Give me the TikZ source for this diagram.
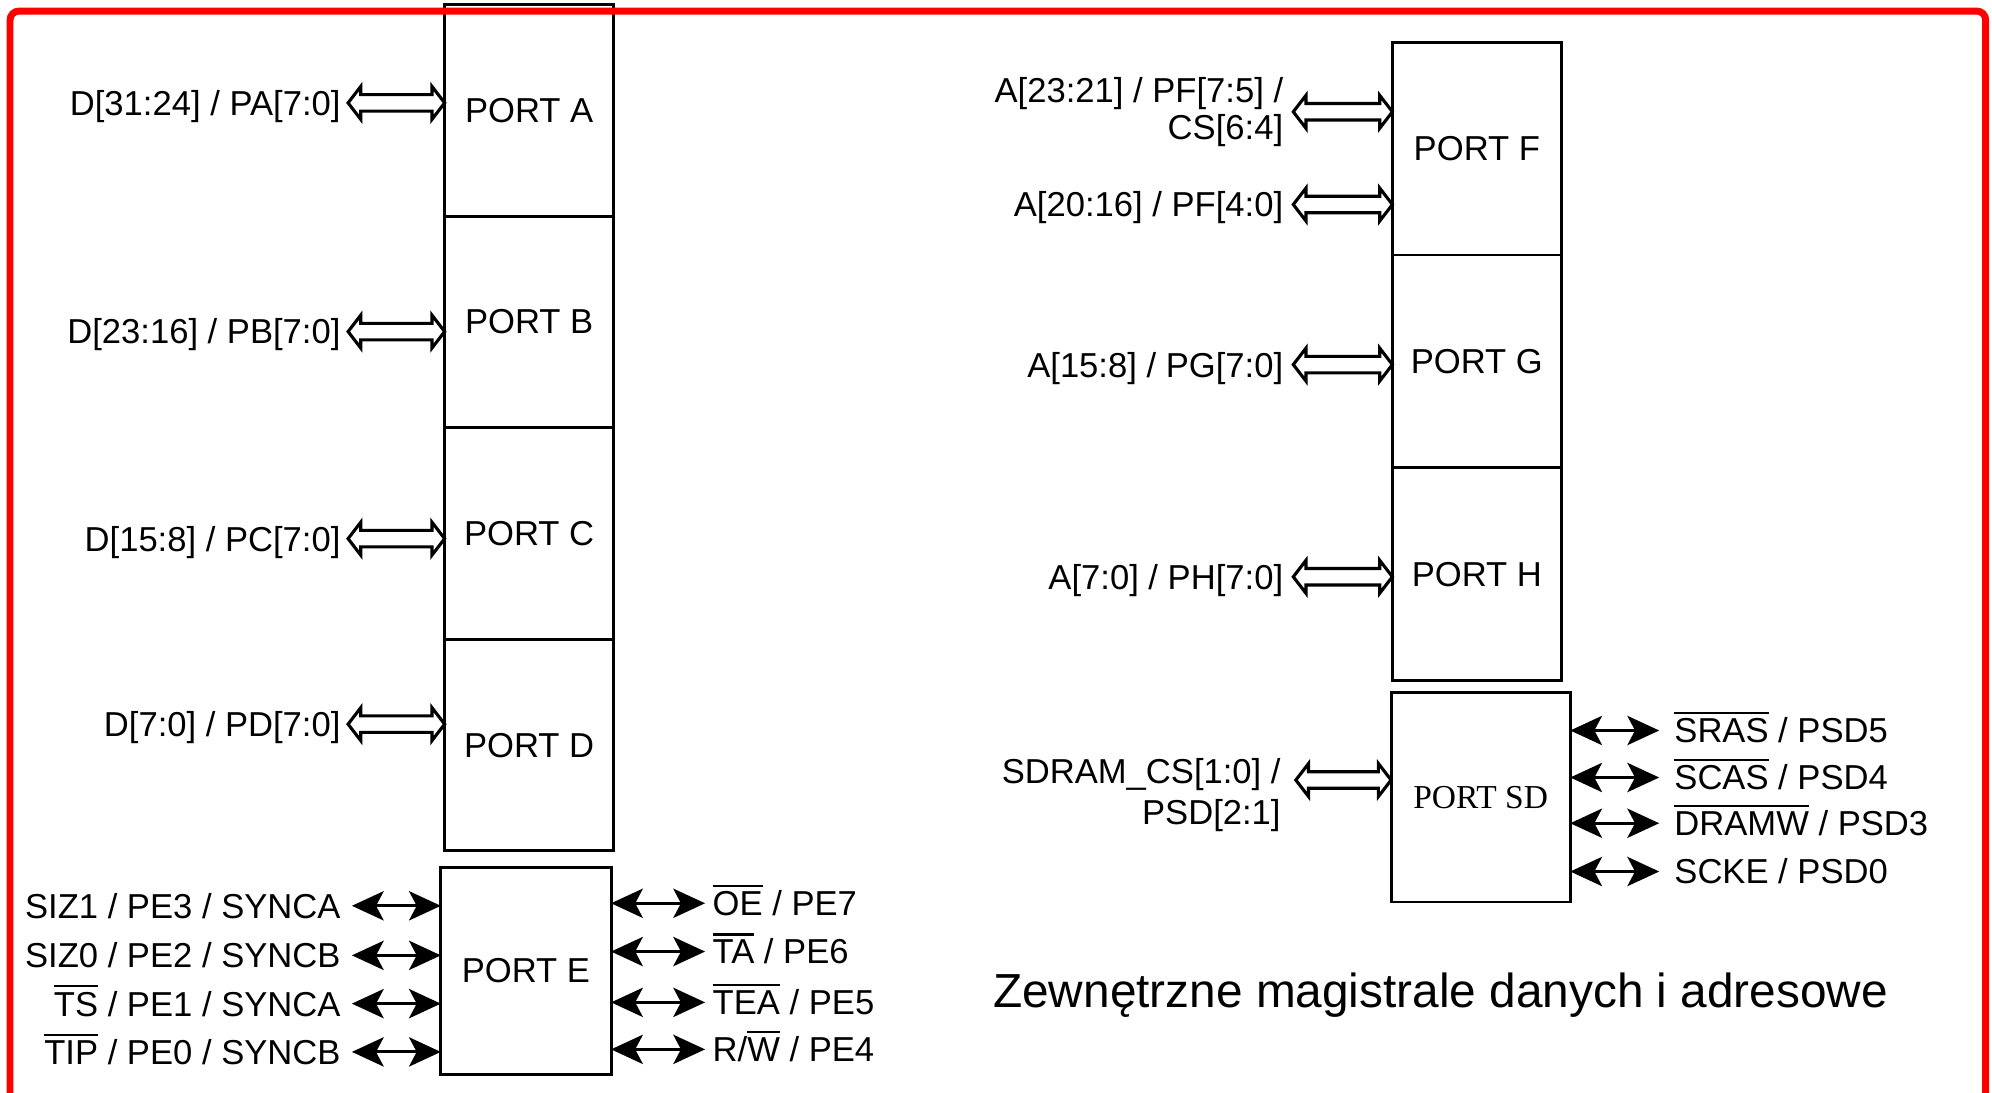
\documentclass[tikz,border=0pt]{standalone}
\usepackage{fontspec}
\setmainfont{Liberation Sans}
\newfontfamily\portserif{Liberation Serif}
\newcommand\ovl[1]{\leavevmode\vbox{\hrule height 1.1pt\kern 2pt\hbox{#1}}}
\usetikzlibrary{arrows.meta,positioning,calc}

\begin{document}
\begin{tikzpicture}[x=2cm, y=2cm,
  every node/.style={font=\fontsize{15.5}{17}\selectfont, inner sep=0pt, outer sep=0pt},
  port/.style={draw, line width=1.3pt, minimum width=2.66cm, minimum height=3.33cm},
  lbl/.style={text height=11.1pt, text depth=0pt},
  sig/.style={line width=1.4pt, {Stealth[length=0.5cm,width=0.46cm,inset=0.12cm]}-{Stealth[length=0.5cm,width=0.46cm,inset=0.12cm]}},
  bus/.style={line width=1.4pt, to path={let \p1=(\tikztostart), \p2=(\tikztotarget) in
    (\x1,\y1) -- (\x1+0.2cm,\y1+0.26cm) -- (\x1+0.2cm,\y1+0.13cm) -- (\x2-0.2cm,\y1+0.13cm)
    -- (\x2-0.2cm,\y1+0.26cm) -- (\x2,\y1) -- (\x2-0.2cm,\y1-0.26cm) -- (\x2-0.2cm,\y1-0.13cm)
    -- (\x1+0.2cm,\y1-0.13cm) -- (\x1+0.2cm,\y1-0.26cm) -- cycle}}]
  \useasboundingbox (0,0) rectangle (15.68,-8.60);

  % data bus ports
  \node[port] (pa) at (4.165,-0.87) {PORT A};
  \node[port, below=0cm of pa] (pb) {PORT B};
  \node[port, below=0cm of pb] (pc) {PORT C};
  \node[port, below=0cm of pc] (pd) {PORT D};
  \node[port, minimum width=2.68cm, minimum height=3.26cm] (pe) at (4.14,-7.64) {PORT E};

  \coordinate (a1) at (2.74,-0.81);
  \coordinate (b1) at (2.74,-2.61);
  \coordinate (c1) at (2.74,-4.24);
  \coordinate (d1) at (2.74,-5.70);
  \node[lbl, left=0.12cm of a1] (la) {D[31:24] / PA[7:0]};
  \node[lbl, left=0.12cm of b1] (lb) {D[23:16] / PB[7:0]};
  \node[lbl, left=0.12cm of c1] (lc) {D[15:8] / PC[7:0]};
  \node[lbl, left=0.12cm of d1] (ld) {D[7:0] / PD[7:0]};
  \draw[bus] (a1) to (pa.west);
  \draw[bus] (b1) to (pb.west);
  \draw[bus] (c1) to (pc.west);
  \draw[bus] (d1) to (pd.west);

  \foreach \y/\txt [count=\i] in {-7.13/{SIZ1 / PE3 / SYNCA}, -7.52/{SIZ0 / PE2 / SYNCB},
      -7.90/{\ovl{TS} / PE1 / SYNCA}, -8.28/{\ovl{TIP} / PE0 / SYNCB}}{
    \coordinate (el\i) at (2.77,\y);
    \node[lbl, left=0.18cm of el\i] (lel\i) {\txt};
    \draw[sig] (el\i) -- (pe.west |- el\i);
  }
  \foreach \y/\txt [count=\i] in {-7.11/{\ovl{OE} / PE7}, -7.49/{\ovl{TA} / PE6},
      -7.89/{\ovl{TEA} / PE5}, -8.26/{R/\ovl{W} / PE4}}{
    \coordinate (er\i) at (5.55,\y);
    \node[lbl, right=0.12cm of er\i] (ler\i) {\txt};
    \draw[sig] (pe.east |- er\i) -- (er\i);
  }

  % address bus ports
  \node[port, minimum height=3.35cm] (pf) at (11.625,-1.17) {PORT F};
  \node[port, minimum height=3.35cm, below=0cm of pf] (pg) {PORT G};
  \node[port, minimum height=3.35cm, below=0cm of pg] (ph) {PORT H};
  \node[port, minimum width=2.82cm, minimum height=3.30cm,
    font=\portserif\fontsize{15}{17}\selectfont] (psd) at (11.655,-6.275) {PORT SD};

  \coordinate (f1) at (10.18,-0.88);
  \coordinate (f2) at (10.18,-1.61);
  \coordinate (g1) at (10.18,-2.87);
  \coordinate (h1) at (10.18,-4.54);
  \coordinate (sd1) at (10.20,-6.14);
  \node[left=0.16cm of f1, align=right, font=\fontsize{15.5}{16.5}\selectfont] (lf1) {A[23:21] / PF[7:5] /\\CS[6:4]};
  \node[lbl, left=0.16cm of f2] (lf2) {A[20:16] / PF[4:0]};
  \node[lbl, left=0.16cm of g1] (lg) {A[15:8] / PG[7:0]};
  \node[lbl, left=0.16cm of h1] (lh) {A[7:0] / PH[7:0]};
  \node[left=0.24cm of sd1, yshift=-0.24cm, align=right, font=\fontsize{15.5}{18.2}\selectfont] (lsd) {SDRAM\_CS[1:0] /\\PSD[2:1]};
  \draw[bus] (f1) to (pf.west);
  \draw[bus] (f2) to (pf.west);
  \draw[bus] (g1) to (pg.west);
  \draw[bus] (h1) to (ph.west);
  \draw[bus] (sd1) to (psd.west);

  \foreach \y/\txt [count=\i] in {-5.75/{\ovl{SRAS} / PSD5}, -6.12/{\ovl{SCAS} / PSD4},
      -6.48/{\ovl{DRAMW} / PSD3}, -6.86/{SCKE / PSD0}}{
    \coordinate (sr\i) at (13.06,\y);
    \node[lbl, right=0.24cm of sr\i] (lsr\i) {\txt};
    \draw[sig] (psd.east |- sr\i) -- (sr\i);
  }

  \node[font=\fontsize{21.4}{25}\selectfont] (cap) at (11.34,-7.83) {Zewnętrzne magistrale danych i adresowe};

  % frame
  \draw[red, line width=3.1pt, rounded corners=4pt] (0.079,-9) -- (0.079,-0.087) -- (15.63,-0.087) -- (15.63,-9);
\end{tikzpicture}
\end{document}
